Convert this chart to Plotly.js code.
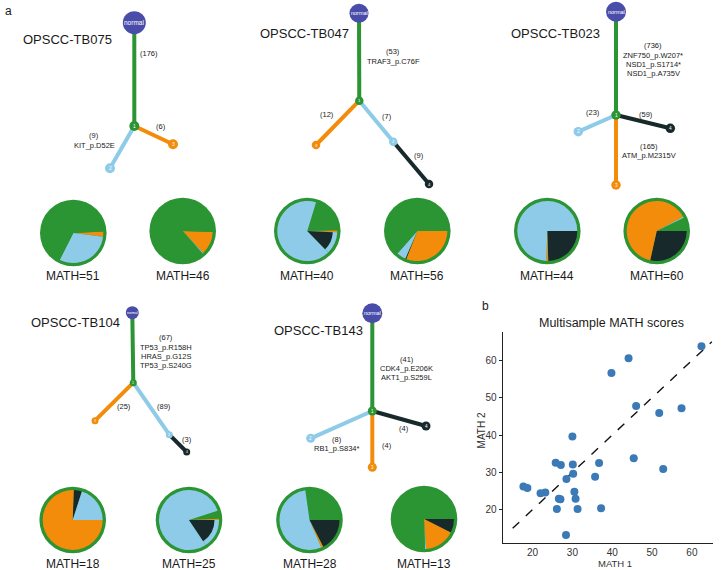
<!DOCTYPE html>
<html><head><meta charset="utf-8">
<script src="https://cdn.plot.ly/plotly-3.0.1.min.js"></script>
<style>html,body{margin:0;padding:0;background:#fff}</style>
</head><body><div id="chart" style="width:722px;height:570px"></div>
<script>
// ================= DATA =================
const sampleNames = ["OPSCC-TB075","OPSCC-TB047","OPSCC-TB023","OPSCC-TB104","OPSCC-TB143"];
// edges: [parent, child, mutation count, driver mutations]
const tb075Edges = [["normal","1",176,[]],["1","2",9,["KIT_p.D52E"]],["1","3",6,[]]];
const tb047Edges = [["normal","1",53,["TRAF3_p.C76F"]],["1","2",7,[]],["1","3",12,[]],["2","4",9,[]]];
const tb023Edges = [["normal","1",736,["ZNF750_p.W207*","NSD1_p.S1714*","NSD1_p.A735V"]],["1","2",23,[]],["1","3",165,["ATM_p.M2315V"]],["1","4",59,[]]];
const tb104Edges = [["normal","1",67,["TP53_p.R158H","HRAS_p.G12S","TP53_p.S240G"]],["1","2",89,[]],["1","3",25,[]],["2","4",3,[]]];
const tb143Edges = [["normal","1",41,["CDK4_p.E206K","AKT1_p.S259L"]],["1","2",8,["RB1_p.S834*"]],["1","3",4,[]],["1","4",4,[]]];
const treeEdges = [tb075Edges, tb047Edges, tb023Edges, tb104Edges, tb143Edges];

// clone fractions for each region pie (two regions per sample)
const pieSample = [0,0,1,1,2,2,3,3,4,4];
const pieMath   = [51,46,40,56,44,60,18,25,28,13];
const pieClone1 = [0.667,0.870,0.200,0.635,0.000,0.072,0.000,0.044,0.272,0.755];
const pieClone2 = [0.305,0.005,0.670,0.050,0.745,0.006,0.200,0.794,0.542,0.006];
const pieClone3 = [0.028,0.125,0.010,0.310,0.010,0.637,0.756,0.006,0.011,0.164];
const pieClone4 = [0.000,0.000,0.120,0.005,0.245,0.285,0.044,0.156,0.175,0.075];

// panel b: multisample MATH scores
const math1 = [62.4,44.1,39.8,46.0,57.4,51.8,30.0,45.4,25.8,27.1,30.1,36.7,52.8,30.2,35.7,28.5,17.7,18.7,22.0,23.2,30.5,26.6,27.0,30.8,26.1,31.3,37.2,28.4];
const math2 = [63.8,60.6,56.6,47.8,47.2,45.9,39.6,33.8,32.6,32.0,32.1,32.5,30.9,29.6,28.8,28.2,26.2,25.8,24.4,24.6,24.8,22.9,22.8,22.9,20.2,20.2,20.4,13.2];
const identityLine = [15, 65];
const mathTicks = [20,30,40,50,60];

// ================= LAYOUT / STYLE =================
const W = 722, H = 570;
const cloneColor = {"normal":"#4a4caa","1":"#2b9433","2":"#8ecbe8","3":"#f28c0a","4":"#17292a"};
const treeLayout = [
  {title:[20.7,39], normalSize:23, nodeSize:10, normalFont:6.5,
   nodes:{"normal":[134.3,22.7],"1":[134.3,126],"2":[110,168.3],"3":[173,144.3]},
   labels:[[149.3,53.3],[94,135.7],[161,126]]},
  {title:[258,33.3], normalSize:19, nodeSize:8.5, normalFont:5.5,
   nodes:{"normal":[359,13.3],"1":[359.3,100.7],"2":[393.3,141.7],"3":[316,145],"4":[429,184]},
   labels:[[393.3,51.7],[386.7,116.7],[327.3,114],[419.3,155.7]]},
  {title:[509,33.3], normalSize:20, nodeSize:9.5, normalFont:5.5,
   nodes:{"normal":[616,11.7],"1":[616,115],"2":[578.3,131.7],"3":[616,185],"4":[670.3,128.3]},
   labels:[[653.3,45.7],[592.7,112],[649.3,146.3],[646,114.7]]},
  {title:[29.3,322.3], normalSize:13, nodeSize:7, normalFont:3.5,
   nodes:{"normal":[132.3,312.7],"1":[133.3,382.7],"2":[169.3,434.7],"3":[95,420.7],"4":[186.7,452]},
   labels:[[165.7,337.7],[164.3,406.7],[124,406.7],[187.3,439.3]]},
  {title:[271.7,330.7], normalSize:20, nodeSize:9, normalFont:5.5,
   nodes:{"normal":[372.3,313.3],"1":[372.3,411],"2":[310.7,438.3],"3":[372.3,467.3],"4":[426,426]},
   labels:[[406.7,359.3],[336.7,439.3],[386.7,445.3],[404,428]]}
];
const pieCenters = [[73.3,233],[182.7,231],[307.3,231],[417.3,231],[547.3,231],[656.7,231],[72.7,520],[189,520],[309.5,520],[424,519]];
const pieLabelY = [276,276,276,276,276,276,563.5,563.5,563.5,563.5];
const pieOrder = [["3","2","1"],["3","2","1"],["1","3","4","2"],["3","4","2","1"],["4","3","2"],["1","4","3","2"],["4","2","3"],["1","3","4","2"],["1","4","3","2"],["4","3","2","1"]];
const pieRot = [87,92,17,90,90,64,2,72,-8,90];
const pieNested4 = [false,false,true,false,false,false,false,true,false,false];
const pieR = 30, ringR = 33.3, innerR = 25.5;
const lineH = 9.3, smallFont = 7.5;

// ================= BUILD =================
const traces = [];
const annotations = [];
const shapes = [];
const txt = "#1a1a1a";
function ann(x, y, text, size, extra) {
  annotations.push(Object.assign({x:x, y:y, xref:"x2", yref:"y2", text:text, showarrow:false,
    font:{family:"Liberation Sans, Arial, sans-serif", size:size, color:txt}}, extra||{}));
}

// trees
treeEdges.forEach((edges, t) => {
  const L = treeLayout[t];
  edges.forEach((e, i) => {
    const p = L.nodes[e[0]], c = L.nodes[e[1]];
    traces.push({type:"scatter", mode:"lines", x:[p[0], c[0]], y:[p[1], c[1]], xaxis:"x2", yaxis:"y2",
      line:{color:cloneColor[e[1]], width:4}, hoverinfo:"skip", showlegend:false});
    const lp = L.labels[i];
    const lines = ["(" + e[2] + ")"].concat(e[3]);
    lines.forEach((s, k) => ann(lp[0], lp[1] + k*lineH, s, smallFont));
  });
  const ids = Object.keys(L.nodes);
  ids.forEach(id => {
    const pos = L.nodes[id];
    traces.push({type:"scatter", mode:"markers", x:[pos[0]], y:[pos[1]], xaxis:"x2", yaxis:"y2",
      marker:{color:cloneColor[id], size: id === "normal" ? L.normalSize : L.nodeSize, line:{width:0}},
      hoverinfo:"skip", showlegend:false});
    annotations.push({x:pos[0], y:pos[1], xref:"x2", yref:"y2", text:id, showarrow:false,
      font:{family:"Liberation Sans, Arial, sans-serif", size: id === "normal" ? L.normalFont : L.nodeSize*0.5, color:"#ffffff"}});
  });
  ann(L.title[0], L.title[1], sampleNames[t], 13, {xanchor:"left"});
});

// pies
const cloneVals = {"1":pieClone1, "2":pieClone2, "3":pieClone3, "4":pieClone4};
pieMath.forEach((m, i) => {
  const [cx, cy] = pieCenters[i];
  shapes.push({type:"circle", xref:"paper", yref:"paper", layer:"below",
    x0:(cx-ringR)/W, x1:(cx+ringR)/W, y0:1-(cy+ringR)/H, y1:1-(cy-ringR)/H,
    fillcolor:cloneColor["1"], line:{width:0}});
  const ord = pieOrder[i];
  const vals = ord.map(k => cloneVals[k][i]);
  const dom = r => ({x:[(cx-r)/W, (cx+r)/W], y:[1-(cy+r)/H, 1-(cy-r)/H]});
  const outerCols = ord.map(k => (k === "4" && pieNested4[i]) ? cloneColor["2"] : cloneColor[k]);
  traces.push({type:"pie", values:vals, labels:ord, sort:false, direction:"clockwise", rotation:pieRot[i],
    domain:dom(pieR), marker:{colors:outerCols, line:{width:0}}, textinfo:"none", hoverinfo:"skip", showlegend:false});
  if (pieNested4[i]) {
    traces.push({type:"pie", values:vals, labels:ord, sort:false, direction:"clockwise", rotation:pieRot[i],
      domain:dom(innerR), marker:{colors:ord.map(k => k === "4" ? cloneColor["4"] : "rgba(0,0,0,0)"), line:{width:0}},
      textinfo:"none", hoverinfo:"skip", showlegend:false});
  }
  ann(cx, pieLabelY[i], "MATH=" + m, 12);
});

// panel labels
ann(3, 11, "a", 12, {xanchor:"left"});
ann(485, 306, "b", 12);

// panel b scatter
traces.push({type:"scatter", mode:"lines", x:identityLine, y:identityLine, xaxis:"x", yaxis:"y",
  line:{color:"#111", width:1.4, dash:"dash"}, hoverinfo:"skip", showlegend:false});
traces.push({type:"scatter", mode:"markers", x:math1, y:math2, xaxis:"x", yaxis:"y",
  marker:{color:"#3b7ab6", size:8}, showlegend:false});
ann(611.7, 322.7, "Multisample MATH scores", 12.5);
ann(615, 569.5, "MATH 1", 9.5, {yanchor:"bottom", borderpad:0, font:{family:"Liberation Sans, Arial, sans-serif", size:9.5, color:"#333"}});
ann(481.7, 430.7, "MATH 2", 10, {textangle:-90, font:{family:"Liberation Sans, Arial, sans-serif", size:10, color:"#333"}});

const axB = {showline:true, linecolor:"#222", linewidth:1.2, ticks:"outside", ticklen:3, tickcolor:"#222",
  tickvals:mathTicks, tickfont:{family:"Liberation Sans, Arial, sans-serif", size:10, color:"#333"},
  showgrid:false, zeroline:false, fixedrange:true};
const layout = {
  width:W, height:H, margin:{l:0, r:0, t:0, b:0},
  paper_bgcolor:"#ffffff", plot_bgcolor:"rgba(0,0,0,0)",
  xaxis:Object.assign({}, axB, {domain:[502.7/W, 713/W], range:[12.5, 65.3], anchor:"y", ticks:""}),
  yaxis:Object.assign({}, axB, {domain:[1-542.5/H, 1-331.7/H], range:[11.2, 67.7], anchor:"x"}),
  xaxis2:{domain:[0,1], range:[0,W], visible:false, anchor:"y2", fixedrange:true},
  yaxis2:{domain:[0,1], range:[H,0], visible:false, anchor:"x2", fixedrange:true},
  annotations:annotations, shapes:shapes, showlegend:false
};
Plotly.newPlot("chart", traces, layout, {staticPlot:true});
</script></body></html>
